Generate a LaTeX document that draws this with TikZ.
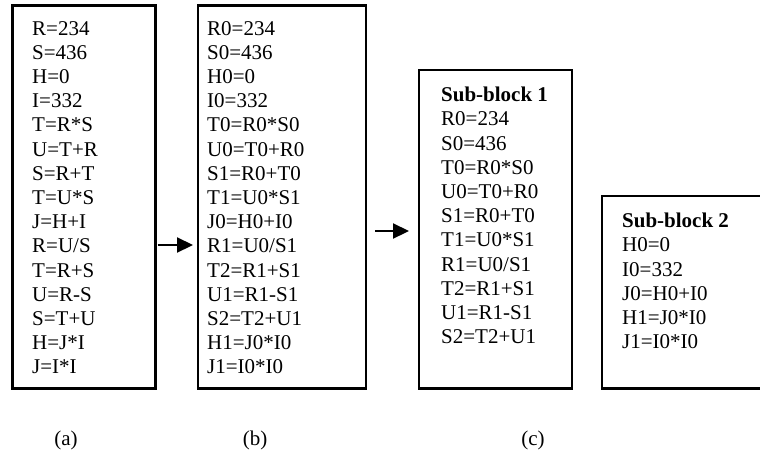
\documentclass[tikz,border=0pt]{standalone}
\usepackage{fontspec}
\setmainfont{Liberation Serif}
\usetikzlibrary{arrows.meta}

\begin{document}
\begin{tikzpicture}[x=1pt,y=1pt]
\tikzset{
frame/.style={rectangle,draw=black,line width=2.4pt,outer sep=0pt,inner sep=0pt,anchor=north west},
code/.style={align=left,inner sep=0pt,anchor=north west,font=\fontsize{21}{24.2}\selectfont},
mylabel/.style={inner sep=0pt,font=\fontsize{21}{24.2}\selectfont},
myarrow/.style={-{Triangle[length=16pt,width=15pt]},line width=2.2pt},
}
\useasboundingbox (0,0) rectangle (760,-453);

\node [frame, minimum width=143pt, minimum height=383pt] (frameA) at (12.5,-5.5) {};
\node [frame, minimum width=168pt, minimum height=383pt] (frameB) at (198,-5.5) {};
\node [frame, minimum width=153pt, minimum height=318.5pt] (frameC) at (419,-70) {};
\node [frame, minimum width=170pt, minimum height=192.5pt] (frameD) at (602,-196) {};

\node [code] (textA) at ([shift={(19.5,-15.5)}]frameA.north west) {R=234\\S=436\\H=0\\I=332\\T=R*S\\U=T+R\\S=R+T\\T=U*S\\J=H+I\\R=U/S\\T=R+S\\U=R-S\\S=T+U\\H=J*I\\J=I*I};
\node [code] (textB) at ([shift={(9,-15.5)}]frameB.north west) {R0=234\\S0=436\\H0=0\\I0=332\\T0=R0*S0\\U0=T0+R0\\S1=R0+T0\\T1=U0*S1\\J0=H0+I0\\R1=U0/S1\\T2=R1+S1\\U1=R1-S1\\S2=T2+U1\\H1=J0*I0\\J1=I0*I0};
\node [code] (textC) at ([shift={(22,-17)}]frameC.north west) {\textbf{Sub-block 1}\\R0=234\\S0=436\\T0=R0*S0\\U0=T0+R0\\S1=R0+T0\\T1=U0*S1\\R1=U0/S1\\T2=R1+S1\\U1=R1-S1\\S2=T2+U1};
\node [code] (textD) at ([shift={(20,-17)}]frameD.north west) {\textbf{Sub-block 2}\\H0=0\\I0=332\\J0=H0+I0\\H1=J0*I0\\J1=I0*I0};

\node [mylabel] (capA) at (66,-440) {(a)};
\node [mylabel] (capB) at (255,-440) {(b)};
\node [mylabel] (capC) at (533,-440) {(c)};

\coordinate (rowA) at (0,-245);
\coordinate (rowB) at (0,-231);
\draw[myarrow, shorten <=2pt, shorten >=5pt] (frameA.east |- rowA) -- (frameB.west |- rowA);
\draw[myarrow, shorten <=9pt, shorten >=10pt] (frameB.east |- rowB) -- (frameC.west |- rowB);
\end{tikzpicture}
\end{document}
